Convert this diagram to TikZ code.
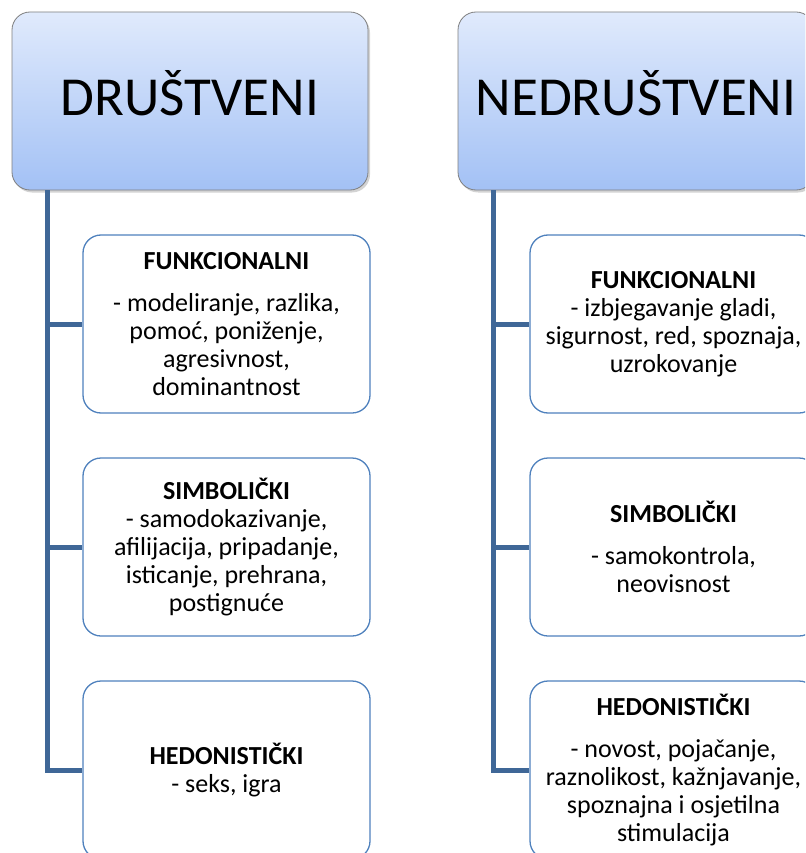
\documentclass[tikz,border=0pt]{standalone}
\usepackage{fontspec}
\setmainfont{Carlito}
\usetikzlibrary{shadows}

\definecolor{hdrtop}{HTML}{E0EAFC}
\definecolor{hdrbot}{HTML}{A3C1F5}
\definecolor{hdrline}{HTML}{7F7F7F}
\definecolor{boxline}{HTML}{4F81BD}
\definecolor{spinecol}{HTML}{3F6797}

\begin{document}
\begin{tikzpicture}[x=1pt,y=-1pt,
  hdr/.style={draw=hdrline,line width=0.8pt,rounded corners=18pt,
    top color=hdrtop,bottom color=hdrbot,
    drop shadow={shadow xshift=2pt,shadow yshift=-2.5pt,opacity=0.35},
    minimum width=356pt,minimum height=178pt,inner sep=0pt,text depth=16pt,
    font=\fontsize{55}{60}\selectfont},
  sub/.style={draw=boxline,line width=1.3pt,rounded corners=18pt,fill=white,
    minimum width=287pt,minimum height=178pt,inner sep=0pt,align=center,
    font=\fontsize{26}{28}\selectfont},
  spine/.style={draw=spinecol,line width=5pt}]

\useasboundingbox (0,0) rectangle (805,853);
\clip (0,0) rectangle (805,853);

% headers
\node[hdr] (hdrL) at (190,101) {DRUŠTVENI};
\node[hdr] (hdrR) at (636,101) {NEDRUŠTVENI};

% left column
\node[sub] (funL) at (226.5,324) {\textbf{FUNKCIONALNI}\\[14pt]- modeliranje, razlika,\\pomoć, poniženje,\\agresivnost,\\dominantnost};
\node[sub] (simL) at (226.5,547) {\textbf{SIMBOLIČKI}\\- samodokazivanje,\\afilijacija, pripadanje,\\isticanje, prehrana,\\postignuće};
\node[sub] (hedL) at (226.5,770) {\textbf{HEDONISTIČKI}\\- seks, igra};

% right column
\node[sub] (funR) at (673.5,324) {\textbf{FUNKCIONALNI}\\- izbjegavanje gladi,\\sigurnost, red, spoznaja,\\uzrokovanje};
\node[sub] (simR) at (673.5,547) {\textbf{SIMBOLIČKI}\\[14pt]- samokontrola,\\neovisnost};
\node[sub] (hedR) at (673.5,770) {\textbf{HEDONISTIČKI}\\[14pt]- novost, pojačanje,\\raznolikost, kažnjavanje,\\spoznajna i osjetilna\\stimulacija};

% connectors
\coordinate (spL) at ([xshift=36pt]hdrL.south west);
\coordinate (spR) at ([xshift=36pt]hdrR.south west);
\foreach \c in {funL,simL,hedL}
  \draw[spine] (spL) |- (\c.west);
\foreach \c in {funR,simR,hedR}
  \draw[spine] (spR) |- (\c.west);

\end{tikzpicture}
\end{document}
